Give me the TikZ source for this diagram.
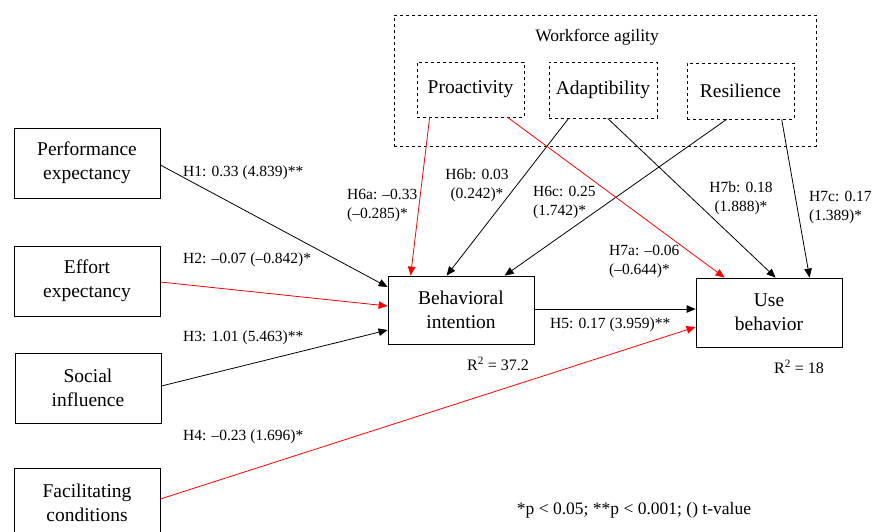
\documentclass[tikz,border=0pt]{standalone}
\usepackage{fontspec}
\setmainfont{Liberation Serif}
\usetikzlibrary{arrows.meta}
\begin{document}
\begin{tikzpicture}[x=1pt,y=-1pt,
  box/.style={draw,line width=0.8pt,rectangle,minimum width=146pt,minimum height=70pt,
    align=center,inner sep=0pt,font=\fontsize{19.5}{24}\selectfont},
  dbox/.style={draw,dashed,line width=0.7pt,rectangle,inner sep=0pt,align=center,
    font=\fontsize{19.5}{24}\selectfont},
  lbl/.style={inner sep=0pt,font=\fontsize{15.5}{19}\selectfont},
  path/.style={line width=0.8pt,-{Triangle[length=9pt,width=7.5pt]}},
  neg/.style={path,draw=red,color=red}]
\useasboundingbox (0,0) rectangle (872,531);

% workforce agility block
\node[dbox,minimum width=422pt,minimum height=131pt] (wa) at (605,80.5) {};
\node[lbl,font=\fontsize{17.5}{22}\selectfont] (watxt) at (597,37) {Workforce agility};
\node[dbox,minimum width=107pt,minimum height=55pt] (pro) at (470.5,89.5) {Proactivity};
\node[dbox,minimum width=108pt,minimum height=56pt] (ada) at (603,90) {Adaptibility};
\node[dbox,minimum width=107pt,minimum height=56pt] (res) at (740.5,91) {Resilience};

% predictors
\node[box] (pe) at (87,163) {Performance\\expectancy};
\node[box] (ee) at (87,281) {Effort\\expectancy};
\node[box] (si) at (88,388) {Social\\influence};
\node[box] (fc) at (87,503) {Facilitating\\conditions};

% outcomes
\node[box,minimum height=68pt] (bi) at (461,310) {Behavioral\\intention};
\node[box,minimum height=69pt] (ub) at (769,312.5) {Use\\behavior};

% paths
\draw[path] ([yshift=-2pt]pe.east) -- ([yshift=23pt]bi.west);
\draw[neg] ([yshift=-1pt]ee.east) -- ([yshift=4pt]bi.west);
\draw[path] ([yshift=2pt]si.east) -- ([yshift=-20pt]bi.west);
\draw[neg] ([yshift=4pt]fc.east) -- ([yshift=-14.5pt]ub.west);
\draw[path] ([yshift=1pt]bi.east) -- ([yshift=1pt]bi.east -| ub.west);

\draw[neg] ([xshift=13pt]pro.south west) -- ([xshift=23pt]bi.north west);
\draw[path] ([xshift=20pt]ada.south west) -- ([xshift=59pt]bi.north west);
\draw[path] ([xshift=40pt]res.south west) -- ([xshift=117pt]bi.north west);
\draw[neg] ([xshift=91pt]pro.south west) -- ([xshift=29pt]ub.north west);
\draw[path] ([xshift=59pt]ada.south west) -- ([xshift=80pt]ub.north west);
\draw[path] ([xshift=95pt]res.south west) -- ([xshift=114pt]ub.north west);

% path labels
\node[lbl,anchor=west] (h1) at (183,173) {H1: 0.33 (4.839)**};
\node[lbl,anchor=west] (h2) at (183,260) {H2: –0.07 (–0.842)*};
\node[lbl,anchor=west] (h3) at (183,338) {H3: 1.01 (5.463)**};
\node[lbl,anchor=west] (h4) at (183,437) {H4: –0.23 (1.696)*};
\node[lbl,anchor=west] (h5) at (550,325) {H5: 0.17 (3.959)**};
\node[lbl,anchor=west,align=left] (h6a) at (347,205) {H6a: –0.33\\(–0.285)*};
\node[lbl,align=center] (h6b) at (477,185) {H6b: 0.03\\(0.242)*};
\node[lbl,anchor=west,align=left] (h6c) at (533,202.5) {H6c: 0.25\\(1.742)*};
\node[lbl,anchor=west,align=left] (h7a) at (609,261) {H7a: –0.06\\(–0.644)*};
\node[lbl,align=center] (h7b) at (741,198.5) {H7b: 0.18\\(1.888)*};
\node[lbl,anchor=west,align=left] (h7c) at (809,207.5) {H7c: 0.17\\(1.389)*};

% explained variance and note
\node[lbl,font=\fontsize{16}{19}\selectfont] (r2bi) at (498,364) {R\textsuperscript{2} = 37.2};
\node[lbl,font=\fontsize{16}{19}\selectfont] (r2ub) at (799,367) {R\textsuperscript{2} = 18};
\node[lbl,font=\fontsize{17.5}{21}\selectfont] (note) at (634,510) {*p < 0.05; **p < 0.001; () t-value};
\end{tikzpicture}
\end{document}
